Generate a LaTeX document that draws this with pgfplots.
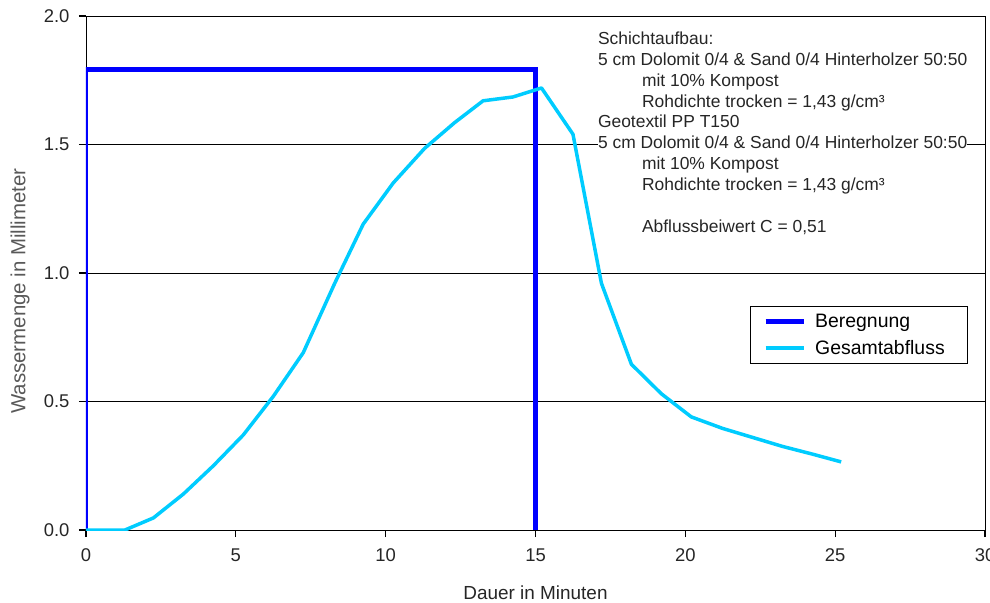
\documentclass[border=0pt]{standalone}
\usepackage{fontspec}
\setmainfont{Liberation Sans}
\usepackage{pgfplots}
\pgfplotsset{compat=1.18}
\definecolor{bereg}{RGB}{0,0,255}
\definecolor{gesamt}{RGB}{0,204,255}
\begin{document}
\begin{tikzpicture}
\useasboundingbox (-86bp,-73bp) rectangle (904bp,530bp);
\begin{axis}[
  at={(0,0)}, anchor=south west,
  scale only axis, width=899bp, height=514bp,
  xmin=0, xmax=30, ymin=0, ymax=2,
  xtick={0,5,...,30}, ytick={0,0.5,1,1.5,2},
  yticklabel style={xshift=-6bp, /pgf/number format/.cd,fixed,fixed zerofill,precision=1},
  /pgf/number format/assume math mode=true,
  xtick pos=bottom, ytick pos=left,
  tick align=outside, major tick length=7bp,
  xtick style={draw=black, line width=1.2bp},
  ytick style={draw=black, line width=1.2bp},
  axis line style={black, line width=0.8pt},
  ymajorgrids, grid style={black, line width=0.8pt},
  ticklabel style={font=\fontsize{18.5}{20}\selectfont, text=black!85},
  xticklabel style={yshift=-8bp},
  xlabel={Dauer in Minuten},
  ylabel={Wassermenge in Millimeter},
  xlabel style={at={(rel axis cs:0.5,0)}, anchor=center, yshift=-63bp, font=\fontsize{19}{22}\selectfont, text=black!85},
  ylabel style={at={(rel axis cs:0,0.465)}, anchor=center, yshift=66bp, font=\fontsize{20.5}{22}\selectfont, text=black!65},
  legend style={at={(axis cs:22.15,0.872)}, anchor=north west, draw=black, line width=0.8pt,
    font=\fontsize{19.5}{22}\selectfont, inner xsep=13bp, inner ysep=6bp, row sep=7bp},
  legend cell align=left,
  legend image code/.code={\draw[#1] (0bp,0bp) -- (38bp,0bp); \path (45bp,0bp);},
]
\addplot[bereg, line width=5bp, line join=miter] coordinates {(0,0) (0,1.79) (15,1.79) (15,0)};
\addlegendentry{Beregnung}
\addplot[gesamt, line width=3.5bp, line join=round] coordinates {
(0,0) (1.3,0) (2.25,0.047) (3.25,0.14) (4.25,0.25) (5.25,0.37) (6.25,0.52)
(7.25,0.69) (8.3,0.96) (9.25,1.19) (10.25,1.35) (11.3,1.485) (12.3,1.585)
(13.25,1.67) (14.25,1.685) (15.2,1.72) (16.25,1.54) (17.2,0.96) (18.2,0.645)
(19.2,0.53) (20.2,0.44) (21.25,0.395) (22.25,0.36) (23.25,0.325) (24.25,0.295) (25.2,0.265)};
\addlegendentry{Gesamtabfluss\hspace*{8bp}}
\node[anchor=north west, fill=white, inner sep=0pt, align=left,
      font=\fontsize{17.5}{21}\selectfont, text=black!85] at (axis cs:17.08,1.94) {%
Schichtaufbau:\\
5 cm Dolomit 0/4 \& Sand 0/4 Hinterholzer 50:50\\
\hspace*{44bp}mit 10\% Kompost\\
\hspace*{44bp}Rohdichte trocken = 1,43 g/cm³\\
Geotextil PP T150\\
5 cm Dolomit 0/4 \& Sand 0/4 Hinterholzer 50:50\\
\hspace*{44bp}mit 10\% Kompost\\
\hspace*{44bp}Rohdichte trocken = 1,43 g/cm³\\
\mbox{}\\
\hspace*{44bp}Abflussbeiwert C = 0,51};
\end{axis}
\end{tikzpicture}
\end{document}
